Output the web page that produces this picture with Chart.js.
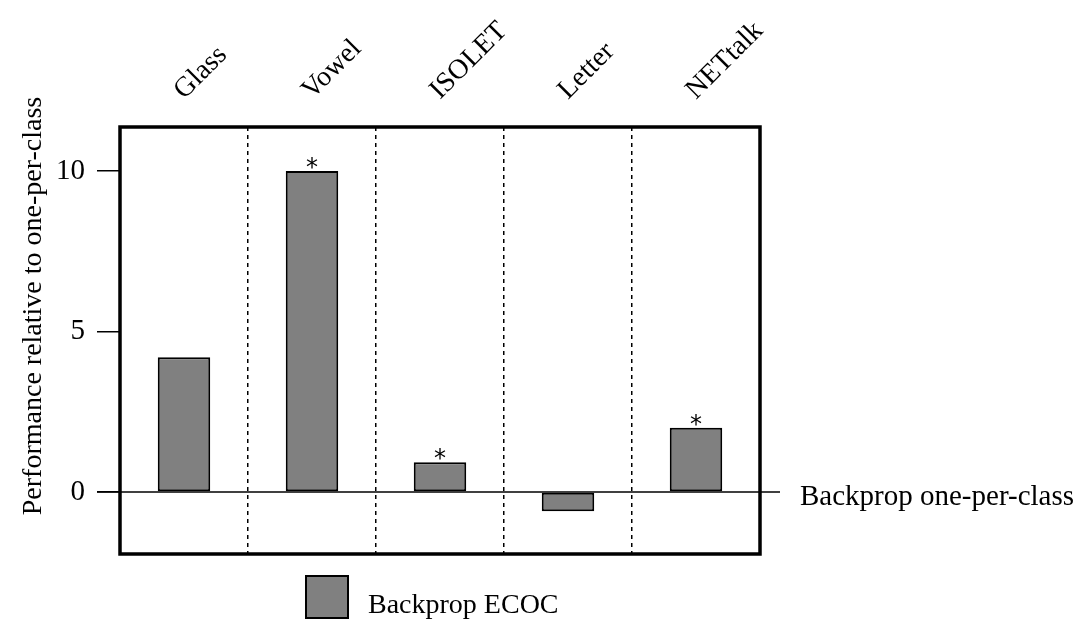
<!DOCTYPE html>
<html>
<head>
<meta charset="utf-8">
<script src="https://cdn.jsdelivr.net/npm/chart.js@4.4.1/dist/chart.umd.min.js"></script>
<style>
html,body{margin:0;padding:0;background:#fff;}
#wrap{width:1082px;height:621px;position:relative;}
</style>
</head>
<body>
<div id="wrap"><canvas id="c" width="1082" height="621"></canvas></div>
<script>
const categories = ["Glass", "Vowel", "ISOLET", "Letter", "NETtalk"];
const ecocValues = [4.2, 10.0, 0.93, -0.6, 2.0];
const significant = [false, true, true, false, true];
const yTickValues = [0, 5, 10];
const seriesName = "Backprop ECOC";
const baselineName = "Backprop one-per-class";
const yTitle = "Performance relative to one-per-class";

const FONT = "'Liberation Serif', 'Times New Roman', serif";

const overlay = {
  id: 'overlay',
  afterDatasetsDraw(chart) {
    const ctx = chart.ctx;
    const a = chart.chartArea;
    const y = chart.scales.y;
    const x = chart.scales.x;
    const y0 = y.getPixelForValue(0);
    ctx.save();
    // zero line
    ctx.strokeStyle = '#000';
    ctx.lineWidth = 1.5;
    ctx.beginPath();
    ctx.moveTo(a.left - 23, y0);
    ctx.lineTo(a.right + 20, y0);
    ctx.stroke();
    // box
    ctx.lineWidth = 3.5;
    ctx.strokeRect(a.left, a.top, a.right - a.left, a.bottom - a.top);
    // category labels (rotated, at scale tick positions)
    ctx.fillStyle = '#000';
    ctx.font = '28px ' + FONT;
    ctx.textBaseline = 'alphabetic';
    ctx.textAlign = 'left';
    chart.data.labels.forEach((lab, i) => {
      ctx.save();
      ctx.translate(x.getPixelForValue(i), a.top - 27);
      ctx.rotate(-Math.PI / 4);
      ctx.fillText(lab, 0, 0);
      ctx.restore();
    });
    // baseline label
    ctx.font = '29px ' + FONT;
    ctx.fillText(baselineName, a.right + 40, y0 + 13);
    // y title
    ctx.font = '28px ' + FONT;
    ctx.save();
    ctx.translate(41, 306);
    ctx.rotate(-Math.PI / 2);
    ctx.textAlign = 'center';
    ctx.fillText(yTitle, 0, 0);
    ctx.restore();
    // asterisks
    const meta = chart.getDatasetMeta(0);
    ctx.font = '24px "DejaVu Sans", sans-serif';
    ctx.textAlign = 'center';
    ctx.textBaseline = 'alphabetic';
    meta.data.forEach((bar, i) => {
      if (significant[i]) {
        ctx.fillText('*', bar.x, Math.min(bar.y, bar.base) + 4);
      }
    });
    // legend
    const ds = chart.data.datasets[0];
    ctx.fillStyle = ds.backgroundColor;
    ctx.fillRect(306, 576, 42, 42);
    ctx.lineWidth = 2;
    ctx.strokeStyle = '#000';
    ctx.strokeRect(306, 576, 42, 42);
    ctx.fillStyle = '#000';
    ctx.font = '28px ' + FONT;
    ctx.textAlign = 'left';
    ctx.textBaseline = 'alphabetic';
    ctx.fillText(ds.label, 368, 613);
    ctx.restore();
  }
};

new Chart(document.getElementById('c'), {
  type: 'bar',
  data: {
    labels: categories,
    datasets: [{
      label: seriesName,
      data: ecocValues,
      backgroundColor: '#808080',
      borderColor: '#000',
      borderWidth: 2,
      borderSkipped: false,
      categoryPercentage: 0.41,
      barPercentage: 1.0
    }]
  },
  options: {
    responsive: false,
    animation: false,
    devicePixelRatio: 1,
    layout: { padding: { left: 0, right: 322, top: 0, bottom: 67 } },
    plugins: { legend: { display: false }, tooltip: { enabled: false } },
    scales: {
      x: {
        position: 'top',
        offset: true,
        grid: {
          display: true,
          offset: true,
          color: '#000',
          lineWidth: 1.5,
          drawTicks: false
        },
        border: { display: false, dash: [4, 4] },
        ticks: { display: false },
        afterFit(scale) { scale.height = 127; }
      },
      y: {
        min: -1.93,
        max: 11.37,
        afterBuildTicks(scale) { scale.ticks = yTickValues.map(v => ({ value: v })); },
        grid: {
          drawOnChartArea: false,
          drawTicks: true,
          tickLength: 23,
          color: '#000',
          lineWidth: 1.5
        },
        border: { display: false },
        ticks: {
          color: '#000',
          font: { family: FONT, size: 29 },
          padding: 12
        },
        afterFit(scale) { scale.width = 120; }
      }
    }
  },
  plugins: [overlay]
});
</script>
</body>
</html>
